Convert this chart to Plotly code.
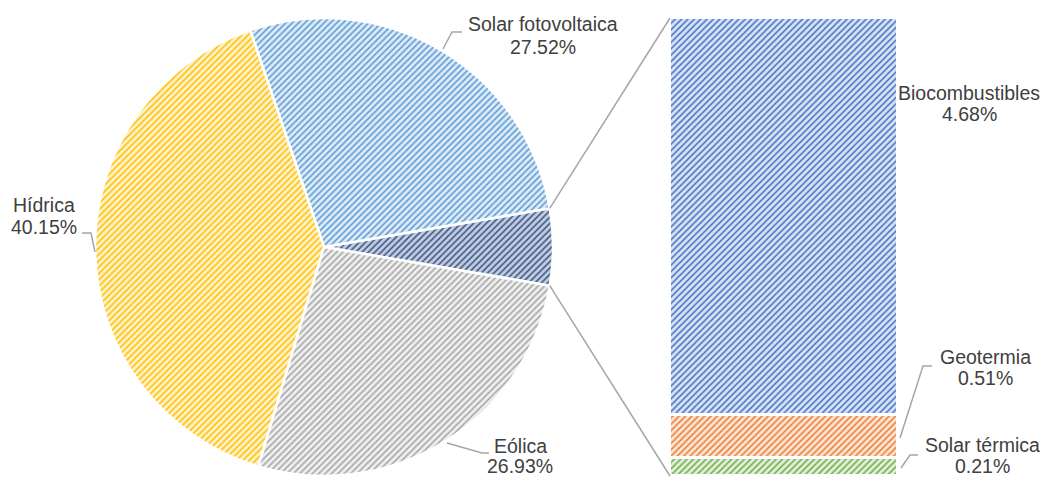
import math
import plotly.graph_objects as go

# ---------------- data ----------------
main_labels = ["Solar fotovoltaica", "Hídrica", "Eólica"]
main_values = [27.52, 40.15, 26.93]
bar_labels = ["Biocombustibles", "Geotermia", "Solar térmica"]
bar_values = [4.68, 0.51, 0.21]
other_label = "Otras"

other_total = sum(bar_values)
pie_labels = [other_label] + main_labels
pie_values = [other_total] + main_values

# ---------------- styles ----------------
pie_fg = ["#3A5687", "#5B9BD5", "#FFC000", "#A5A5A5"]
pie_bg = ["#C3CDDF", "#DDEBF7", "#FFF2CC", "#EFEFEF"]
bar_fg = {"Biocombustibles": "#4472C4", "Geotermia": "#ED7D31", "Solar térmica": "#70AD47"}
bar_bg = {"Biocombustibles": "#DAE3F3", "Geotermia": "#FBE5D6", "Solar térmica": "#E2F0D9"}
TEXT = "#404040"
LINE = "#A6A6A6"
FONT = "Liberation Sans, Arial, sans-serif"
FS = 19.5
PAT_SIZE, PAT_SOLID = 4.5, 0.34

# page body has an 8px margin: work in screenshot pixels and convert
OFF = 8
W, H = 1049 - OFF, 479 - OFF
def px(x):
    return (x - OFF) / W
def py(y):
    return 1 - (y - OFF) / H

CX, CY, R = 324, 247, 229
BAR_L, BAR_R, BAR_T, BAR_B = 670, 898, 18, 476

total = sum(pie_values)
half_deg = other_total / total * 180
rotation = 90 - half_deg

fig = go.Figure()
fig.add_trace(go.Pie(
    labels=pie_labels, values=pie_values, sort=False, direction="counterclockwise",
    rotation=rotation, textinfo="none", showlegend=False,
    domain=dict(x=[px(CX - R), px(CX + R)], y=[py(CY + R), py(CY - R)]),
    marker=dict(colors=pie_bg, line=dict(color="white", width=2.5),
                pattern=dict(shape="/", fgcolor=pie_fg, bgcolor=pie_bg, size=PAT_SIZE,
                             solidity=PAT_SOLID, fillmode="replace")),
))

for lab, val in reversed(list(zip(bar_labels, bar_values))):
    fig.add_trace(go.Bar(
        x=[0], y=[val], name=lab, width=1, showlegend=False,
        xaxis="x", yaxis="y",
        marker=dict(color=bar_bg[lab], line=dict(color="white", width=3),
                    pattern=dict(shape="/", fgcolor=bar_fg[lab], bgcolor=bar_bg[lab],
                                 size=PAT_SIZE, solidity=PAT_SOLID, fillmode="replace")),
    ))

# ---------------- labels (two lines each: name, value) ----------------
label_pos = {  # x center, y of name line, y of value line (screenshot px)
    "Solar fotovoltaica": (543, 24, 47),
    "Hídrica": (44, 205, 227),
    "Eólica": (520, 446, 466),
    "Biocombustibles": (969, 93, 114),
    "Geotermia": (985, 357, 378),
    "Solar térmica": (982, 445, 466),
}
annotations = []
for lab, val in list(zip(main_labels, main_values)) + list(zip(bar_labels, bar_values)):
    x, y1, y2 = label_pos[lab]
    for txt, yy in ((lab, y1), (f"{val:.2f}%", y2)):
        annotations.append(dict(
            x=px(x), y=py(yy), xref="paper", yref="paper", xanchor="center", yanchor="middle",
            text=txt, showarrow=False, align="center",
            font=dict(family=FONT, size=FS, color=TEXT),
        ))

# ---------------- leader and connector lines ----------------
half = math.radians(half_deg)
top_pt = (CX + R * math.cos(half), CY - R * math.sin(half))
bot_pt = (CX + R * math.cos(half), CY + R * math.sin(half))

polylines = [
    [top_pt, (BAR_L, BAR_T)],
    [bot_pt, (BAR_L, BAR_B)],
    [(443, 49), (452, 32), (462, 32)],
    [(82, 233), (91, 233), (95, 252)],
    [(447, 443), (482, 453), (489, 453)],
    [(900, 438), (923, 366), (932, 366)],
    [(901, 468), (910, 455), (918, 455)],
]
shapes = []
for pts in polylines:
    path = "M " + " L ".join(f"{px(a):.5f},{py(b):.5f}" for a, b in pts)
    shapes.append(dict(type="path", path=path, xref="paper", yref="paper",
                       line=dict(color=LINE, width=1.5)))

fig.update_layout(
    width=W, height=H, margin=dict(l=0, r=0, t=0, b=0),
    paper_bgcolor="white", plot_bgcolor="rgba(0,0,0,0)",
    barmode="stack", bargap=0, showlegend=False,
    xaxis=dict(domain=[px(BAR_L), px(BAR_R)], range=[-0.5, 0.5], visible=False, fixedrange=True),
    yaxis=dict(domain=[py(BAR_B), py(BAR_T)], range=[0, other_total], visible=False, fixedrange=True),
    annotations=annotations, shapes=shapes,
    font=dict(family=FONT, color=TEXT),
)

fig.write_html("out.html")
